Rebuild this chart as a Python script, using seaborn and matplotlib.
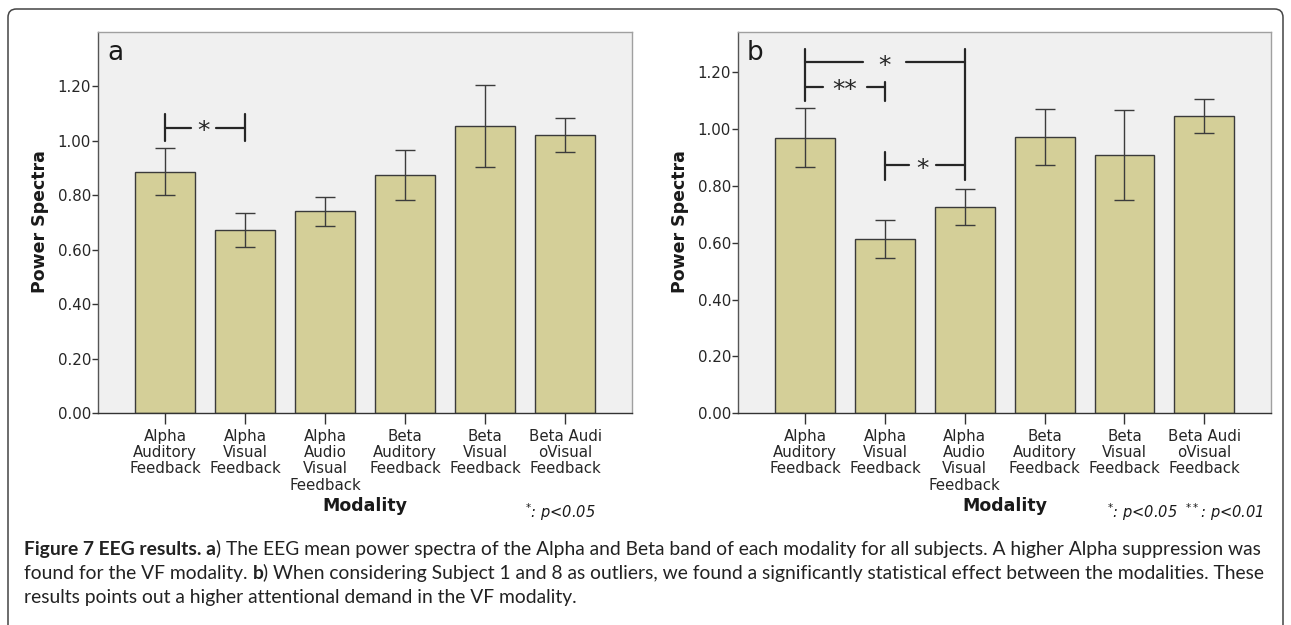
import numpy as np
import pandas as pd
import seaborn as sns
import matplotlib.pyplot as plt
from matplotlib.patches import FancyBboxPatch
from matplotlib.transforms import offset_copy

sns.set_style("white")
plt.rcParams["font.family"] = ["DejaVu Sans"]

W, H = 1291, 625

modality = ["Alpha\nAuditory\nFeedback", "Alpha\nVisual\nFeedback",
            "Alpha\nAudio\nVisual\nFeedback", "Beta\nAuditory\nFeedback",
            "Beta\nVisual\nFeedback", "Beta Audi\noVisual\nFeedback"]

# a) all subjects: mean and error bar ends
mean_a = [0.886, 0.671, 0.741, 0.874, 1.053, 1.022]
low_a = [0.799, 0.609, 0.688, 0.781, 0.904, 0.958]
high_a = [0.974, 0.734, 0.794, 0.964, 1.203, 1.084]

# b) subjects 1 and 8 taken out
mean_b = [0.969, 0.612, 0.726, 0.972, 0.908, 1.047]
low_b = [0.866, 0.545, 0.663, 0.872, 0.750, 0.987]
high_b = [1.072, 0.679, 0.788, 1.070, 1.066, 1.107]

yticks = [0.0, 0.2, 0.4, 0.6, 0.8, 1.0, 1.2]

# brackets: (from bar, to bar, height, stars, star position, half gap)
sig_a = [(0, 1, 1.047, "*", 0.48, 0.16)]
legs_a = [(0, 0.998, 1.097), (1, 0.998, 1.097)]
sig_b = [(0, 2, 1.235, "*", 1.0, 0.27),
         (0, 1, 1.148, "**", 0.5, 0.27),
         (1, 2, 0.872, "*", 1.47, 0.17)]
legs_b = [(0, 1.099, 1.281), (2, 0.822, 1.281), (1, 1.099, 1.165), (1, 0.822, 0.919)]

note_a = r"$^{*}$: p<0.05"
note_b = r"$^{*}$: p<0.05  $^{**}$: p<0.01"

caption = [
    [("Figure 7 EEG results. a", "bold"),
     (") The EEG mean power spectra of the Alpha and Beta band of each modality for all subjects. "
      "A higher Alpha suppression was", "normal")],
    [("found for the VF modality.", "normal"), (" ", "space"), ("b", "bold"),
     (") When considering Subject 1 and 8 as outliers, we found a significantly statistical effect "
      "between the modalities. These", "normal")],
    [("results points out a higher attentional demand in the VF modality.", "normal")],
]

BAR = "#d4cf98"
AX_BG = "#f0f0f0"
INK = "#1a1a1a"

fig = plt.figure(figsize=(W / 100, H / 100), dpi=100)


def fx(x):
    return x / W


def fy(y):
    return 1 - y / H


def panel(left, width, top, mean, low, high, letter, sig, legs, note, note_x):
    ax = fig.add_axes([fx(left), fy(413.3), width / W, (413.3 - 32) / H])
    ax.set_facecolor(AX_BG)
    df = pd.DataFrame({"Modality": modality, "Power": mean})
    sns.barplot(data=df, x="Modality", y="Power", color=BAR, saturation=1, width=0.75,
                edgecolor="#3a3a3a", linewidth=1.0, ax=ax, zorder=2)
    m = np.array(mean)
    ax.errorbar(np.arange(len(m)), m, yerr=[m - np.array(low), np.array(high) - m],
                fmt="none", ecolor="#3c3c3c", elinewidth=1, capsize=7, capthick=1, zorder=3)
    ax.set_xlim(-0.84, 5.835)
    ax.set_ylim(0, top)
    ax.set_yticks(yticks)
    ax.set_yticklabels([f"{v:.2f}" for v in yticks])
    ax.tick_params(axis="y", length=4, width=1, pad=1, labelsize=10.8, color="#333", left=True)
    ax.tick_params(axis="x", length=8, width=1, pad=3, labelsize=10.8, color="#333", bottom=True)
    for lab in ax.get_xticklabels():
        lab.set_linespacing(1.12)
    ax.set_xlabel("")
    ax.set_ylabel("")
    for s in ["top", "right"]:
        ax.spines[s].set_color("#a0a0a0")
    ax.spines["left"].set_color("#555")
    ax.spines["bottom"].set_color("#333")
    for sp in ax.spines.values():
        sp.set_linewidth(1)

    # significance brackets
    for x0, x1, y, stars, sx, gap in sig:
        ax.plot([x0, sx - gap], [y, y], color="#262626", lw=1.6, zorder=4)
        ax.plot([sx + gap, x1], [y, y], color="#262626", lw=1.6, zorder=4)
        ax.text(sx, y, stars, fontsize=18, ha="center", va="baseline", color="#262626",
                transform=offset_copy(ax.transData, fig=fig, y=-10.5, units="dots"), zorder=5)
    for x, y0, y1 in legs:
        ax.plot([x, x], [y0, y1], color="#262626", lw=1.6, zorder=4)

    fig.text(fx(left + 9), fy(60), letter, fontsize=19, ha="left", va="baseline", color=INK)
    fig.text(fx(left - 58), fy(222), "Power Spectra", rotation=90, fontsize=12.5,
             fontweight="bold", ha="center", va="center", color=INK)
    fig.text(fx(left + width / 2), fy(506), "Modality", fontsize=12.5,
             fontweight="bold", ha="center", va="center", color=INK)
    fig.text(fx(note_x), fy(518), note, fontsize=10.5, style="italic", ha="right",
             va="baseline", color=INK)
    return ax


panel(98, 534, 1.398, mean_a, low_a, high_a, "a", sig_a, legs_a, note_a, 596)
panel(738, 533, 1.341, mean_b, low_b, high_b, "b", sig_b, legs_b, note_b, 1264)

# outer frame
frame = FancyBboxPatch((fx(8), fy(660)), fx(1283) - fx(8), fy(9) - fy(660),
                       boxstyle="round,pad=0,rounding_size=0.0065", mutation_aspect=W / H,
                       transform=fig.transFigure, facecolor="none", edgecolor="#444",
                       lw=1.1, clip_on=False)
fig.patches.append(frame)

# caption, set as runs of bold and regular text
renderer = fig.canvas.get_renderer()
cap_font = ["Lato", "DejaVu Sans"]


def run_width(run, size):
    w = 0
    for txt, kind in run:
        if kind == "space":
            a = fig.text(0, 0, "x x", fontsize=size, family=cap_font)
            b = fig.text(0, 0, "xx", fontsize=size, family=cap_font)
            w += a.get_window_extent(renderer).width - b.get_window_extent(renderer).width
            a.remove()
            b.remove()
            continue
        t = fig.text(0, 0, txt, fontsize=size, fontweight=kind, family=cap_font)
        w += t.get_window_extent(renderer).width
        t.remove()
    return w


cap_size = 10 * 1240 / run_width(caption[0], 10)
for run, base in zip(caption, [555, 579, 603]):
    x = 24
    for txt, kind in run:
        if kind == "space":
            x += run_width([(txt, kind)], cap_size)
            continue
        t = fig.text(fx(x), fy(base), txt, fontsize=cap_size, fontweight=kind,
                     family=cap_font, ha="left", va="baseline", color="#222")
        x += t.get_window_extent(renderer).width

fig.savefig("out.png", dpi=100)
